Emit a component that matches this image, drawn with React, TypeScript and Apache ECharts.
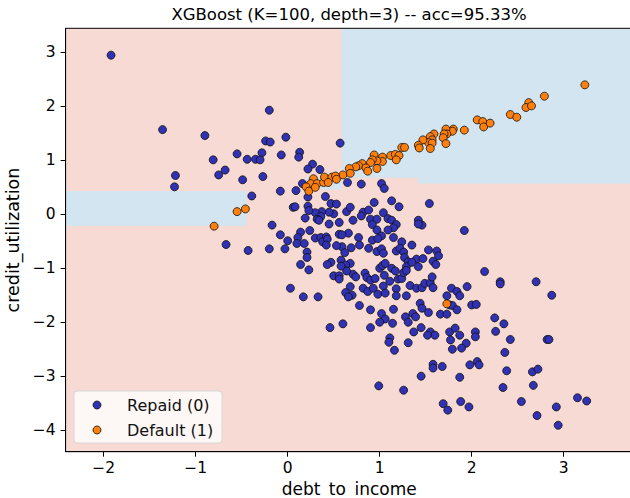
import React, { useEffect, useRef } from 'react';
import * as echarts from 'echarts';

const TITLE = 'XGBoost (K=100, depth=3) -- acc=95.33%';
const X_NAME = 'debt_to_income';
const Y_NAME = 'credit_utilization';
const X_TICKS = [-2, -1, 0, 1, 2, 3];
const Y_TICKS = [-4, -3, -2, -1, 0, 1, 2, 3];
const X_RANGE = [-2.414, 3.75];
const Y_RANGE = [-4.40, 3.448];
const CLASS_NAMES = ['Repaid (0)', 'Default (1)'];

// predicted regions: [x0, y0, x1, y1, class]
const REGIONS = [
  [-2.414, -4.40, 3.75, 3.448, 0],
  [0.587, 0.678, 1.413, 3.448, 1],
  [1.413, 0.573, 3.75, 3.448, 1],
  [-2.414, -0.217, -0.446, 0.432, 1],
  [0.20, 0.46, 0.587, 0.70, 1],
];

const REPAID = [
  [-1.92, 2.95], [-0.20, 1.93], [-1.36, 1.57], [-0.90, 1.46], [-0.24, 1.36], [-0.19, 1.34], [-0.02, 1.43], [0.57, 1.32],
  [-0.55, 1.12], [-0.28, 1.14], [0.13, 1.15], [0.12, 1.06], [-0.07, 1.10], [-0.81, 1.01], [-0.44, 1.02], [-0.35, 1.02],
  [-0.30, 1.01], [-1.22, 0.72], [-1.23, 0.51], [-0.75, 0.73], [-0.68, 0.82], [-0.49, 0.64], [-0.27, 0.70], [0.27, 0.93],
  [0.22, 0.84], [0.35, 0.83], [-0.08, 0.43], [0.09, 0.44], [0.16, 0.57], [-0.39, 0.34], [-0.17, -0.20], [0.06, 0.13],
  [0.08, 0.14], [0.22, 0.15], [0.22, 0.32], [0.41, 0.33], [0.47, 0.20], [0.53, 0.19], [0.50, 0.01], [0.45, 0.04],
  [0.37, 0.05], [0.30, 0.03], [0.23, 0.07], [0.19, -0.07], [0.45, -0.18], [0.56, -0.15], [0.64, 0.05], [0.24, -0.30],
  [0.14, -0.33], [0.11, -0.43], [-0.08, -0.38], [0.00, -0.49], [0.30, -0.44], [0.36, -0.43], [0.42, -0.42], [0.56, -0.37],
  [0.66, -0.35], [-0.67, -0.56], [0.10, -0.54], [0.18, -0.54], [0.65, 0.59], [0.68, 0.13], [0.36, -0.04], [0.32, -0.09],
  [0.34, -0.11], [0.71, -0.11], [0.80, 0.56], [1.02, 0.57], [1.05, 0.48], [0.94, 0.22], [1.13, 0.25], [1.21, 0.14],
  [1.54, 0.20], [0.82, 0.04], [0.80, -0.03], [0.88, 0.08], [0.90, -0.09], [0.97, -0.09], [0.92, -0.19], [1.04, 0.03],
  [1.09, -0.08], [1.13, -0.11], [1.18, -0.19], [1.15, -0.25], [1.09, -0.29], [0.97, -0.29], [1.42, -0.11], [1.46, -0.20],
  [1.92, -0.30], [1.02, -0.40], [0.92, -0.48], [0.98, -0.45], [0.77, -0.43], [1.42, -0.18], [1.24, -0.51], [1.35, -0.57],
  [1.15, -0.43], [1.53, -0.66], [1.62, -0.68], [1.64, -0.77], [0.69, -0.62], [0.78, -0.57], [0.88, -0.63], [0.97, -0.69],
  [1.02, -0.64], [1.04, -0.72], [1.18, -0.68], [1.22, -0.63], [1.26, -0.70], [1.27, -0.80], [1.31, -0.88], [1.40, -0.83],
  [1.47, -0.82], [1.58, -0.87], [1.61, -0.93], [1.29, -0.97], [1.35, -0.89], [1.42, -0.97], [0.68, -0.91], [0.71, -1.11],
  [0.74, -1.16], [0.84, -1.09], [0.86, -1.17], [0.90, -1.22], [0.95, -1.19], [1.00, -1.00], [1.03, -0.95], [1.06, -0.91],
  [1.13, -1.00], [1.17, -1.05], [1.05, -1.13], [1.11, -1.24], [1.20, -1.20], [1.24, -1.19], [1.26, -1.08], [1.29, -1.04],
  [0.68, -1.34], [0.70, -1.50], [0.82, -1.37], [0.87, -1.43], [0.93, -1.37], [1.04, -1.33], [0.98, -1.48], [1.06, -1.46],
  [1.18, -1.38], [1.18, -1.51], [1.29, -1.51], [1.33, -1.32], [1.40, -1.37], [1.46, -1.36], [1.49, -1.28], [1.55, -1.27],
  [1.58, -1.36], [1.57, -1.16], [0.78, -1.69], [0.90, -1.77], [1.02, -1.84], [1.06, -1.94], [1.00, -2.00], [1.15, -1.76],
  [1.14, -2.02], [1.28, -1.90], [1.31, -2.00], [1.36, -1.84], [1.39, -1.90], [1.44, -1.65], [1.46, -1.74], [1.53, -1.82],
  [1.45, -2.10], [1.37, -2.18], [1.55, -2.18], [1.60, -2.24], [1.52, -2.24], [1.11, -2.29], [0.90, -2.10], [1.66, -1.85],
  [1.73, -1.85], [1.73, -1.51], [1.78, -1.37], [1.84, -1.43], [1.87, -1.51], [1.76, -1.68], [1.79, -1.69], [1.84, -1.77],
  [1.95, -1.34], [2.00, -1.68], [2.05, -1.67], [1.76, -2.18], [1.82, -2.11], [1.87, -2.24], [2.04, -2.18], [2.04, -2.27],
  [2.14, -1.06], [2.31, -1.25], [2.31, -1.29], [2.70, -1.25], [2.87, -1.50], [2.25, -1.92], [2.35, -2.03], [2.26, -2.17],
  [2.42, -2.32], [2.36, -2.56], [2.82, -2.32], [2.84, -2.32], [2.38, -2.90], [2.34, -3.21], [2.66, -2.92], [2.72, -2.87],
  [2.67, -3.17], [2.54, -3.47], [2.71, -3.73], [2.92, -3.57], [2.94, -3.91], [3.15, -3.40], [3.25, -3.46], [1.98, -2.79],
  [2.06, -2.73], [2.08, -2.79], [1.87, -3.02], [1.58, -2.78], [1.58, -2.85], [1.68, -2.82], [1.45, -3.00], [0.99, -3.18],
  [1.26, -3.26], [1.69, -3.51], [1.74, -3.63], [1.88, -3.47], [1.97, -3.57], [1.77, -2.33], [1.94, -2.39], [1.89, -2.48],
  [1.79, -2.50], [1.31, -2.38], [1.10, -2.37], [1.16, -2.52], [0.59, -0.38], [0.59, -0.60], [0.62, -0.71], [0.58, -0.85],
  [0.63, -0.94], [0.64, -1.05], [0.60, -2.03], [-0.43, -0.67], [-0.20, -0.64], [-0.03, -0.64], [0.21, -0.70], [0.21, -0.80],
  [0.14, -0.93], [0.23, -1.03], [0.38, -0.51], [0.43, -0.46], [0.42, -0.57], [0.53, -0.58], [0.47, -0.89], [0.43, -0.93],
  [0.50, -1.14], [0.56, -1.14], [0.56, -1.20], [0.63, -1.45], [0.66, -1.53], [0.03, -1.37], [0.17, -1.53], [0.33, -1.53],
  [0.46, -2.10], [0.58, -0.96],
];

const DEFAULTED = [
  [3.23, 2.40], [2.79, 2.19], [2.62, 2.07], [2.59, 1.98], [2.65, 2.01], [2.42, 1.85], [2.49, 1.80], [2.06, 1.75],
  [2.12, 1.72], [2.13, 1.62], [2.20, 1.69], [1.92, 1.56], [1.80, 1.58], [1.79, 1.54], [1.72, 1.58], [1.73, 1.49],
  [1.70, 1.49], [1.69, 1.42], [1.72, 1.31], [1.59, 1.49], [1.55, 1.44], [1.57, 1.38], [1.53, 1.33], [1.57, 1.32],
  [1.47, 1.38], [1.42, 1.28], [1.43, 1.23], [1.55, 1.22], [1.24, 1.24], [1.27, 1.24], [1.12, 1.09], [1.17, 1.11],
  [1.21, 1.09], [1.18, 1.01], [0.94, 1.10], [1.03, 1.06], [1.03, 0.98], [0.97, 0.99], [0.92, 1.01], [0.90, 0.96],
  [0.97, 0.85], [0.81, 0.94], [0.77, 0.90], [0.74, 0.88], [0.85, 0.86], [0.87, 0.80], [0.67, 0.85], [0.68, 0.76],
  [0.60, 0.73], [-0.55, 0.05], [-0.46, 0.10], [0.28, 0.66], [0.25, 0.57], [0.32, 0.57], [0.39, 0.59], [0.40, 0.69],
  [0.20, 0.51], [0.23, 0.43], [0.30, 0.50], [0.48, 0.69], [0.52, 0.71], [-0.80, -0.22], [0.44, 0.59], [0.53, 0.65],
  [1.73, -1.66],
];

const PINK = '#f6dad3';
const LIGHT_BLUE = '#d2e5f0';
const BLUE = '#3131b3';
const ORANGE = '#ff7f0e';
const FONT = 'DejaVu Sans';

const fmt = (v: number) => (v < 0 ? '\u2212' + Math.abs(v) : String(v));

export default function App() {
  const ref = useRef<HTMLDivElement>(null);
  useEffect(() => {
    if (!ref.current) return;
    const chart = echarts.init(ref.current, undefined, { renderer: 'svg' });
    chart.setOption({
      animation: false,
      grid: {
        left: 65.6, right: -2.7, top: 28.3, bottom: 46.3,
        containLabel: false, outerBoundsMode: 'none',
        show: true, z: 5, borderColor: '#000', borderWidth: 1, backgroundColor: 'transparent',
      },
      xAxis: {
        type: 'value', min: X_RANGE[0], max: X_RANGE[1],
        name: X_NAME, nameLocation: 'middle', nameGap: 27.5,
        nameTextStyle: { fontFamily: FONT, fontSize: 17, color: '#000' },
        axisLine: { show: true, onZero: false, lineStyle: { color: '#000', width: 1 } },
        axisTick: { show: true, length: 5, lineStyle: { color: '#000' }, customValues: X_TICKS },
        axisLabel: { customValues: X_TICKS, formatter: fmt, color: '#000', fontFamily: FONT, fontSize: 15.5, margin: 8 },
        splitLine: { show: false },
        z: 5,
      },
      yAxis: {
        type: 'value', min: Y_RANGE[0], max: Y_RANGE[1],
        name: Y_NAME, nameLocation: 'middle', nameGap: 37, nameRotate: 90,
        nameTextStyle: { fontFamily: FONT, fontSize: 17.5, color: '#000' },
        axisLine: { show: true, onZero: false, lineStyle: { color: '#000', width: 1 } },
        axisTick: { show: true, length: 5, lineStyle: { color: '#000' }, customValues: Y_TICKS },
        axisLabel: { customValues: Y_TICKS, formatter: fmt, color: '#000', fontFamily: FONT, fontSize: 15.5, margin: 10 },
        splitLine: { show: false },
        z: 5,
      },
      series: [
        {
          type: 'custom',
          silent: true,
          clip: true,
          z: 1,
          encode: { x: [0, 2], y: [1, 3] },
          data: REGIONS,
          renderItem: (params: any, api: any) => {
            const p0 = api.coord([api.value(0), api.value(3)]);
            const p1 = api.coord([api.value(2), api.value(1)]);
            return {
              type: 'rect',
              shape: { x: p0[0], y: p0[1], width: p1[0] - p0[0], height: p1[1] - p0[1] },
              style: { fill: api.value(4) ? LIGHT_BLUE : PINK, stroke: null },
            };
          },
        },
        {
          type: 'scatter', name: CLASS_NAMES[0], data: REPAID, symbolSize: 8, z: 3,
          itemStyle: { color: BLUE, borderColor: '#111', borderWidth: 0.8, opacity: 1 },
        },
        {
          type: 'scatter', name: CLASS_NAMES[1], data: DEFAULTED, symbolSize: 8, z: 4,
          itemStyle: { color: ORANGE, borderColor: '#111', borderWidth: 0.8, opacity: 1 },
        },
      ],
      graphic: [
        {
          type: 'text', x: 349, y: 14, z: 100,
          style: { text: TITLE, fontFamily: FONT, fontSize: 16.5, fill: '#000', align: 'center', verticalAlign: 'middle' },
        },
        { type: 'rect', z: 100, shape: { x: 74, y: 391, width: 148, height: 52, r: 3 }, style: { fill: 'rgba(255,255,255,0.8)', stroke: '#d6d6d6', lineWidth: 1 } },
        { type: 'circle', z: 101, shape: { cx: 97, cy: 405, r: 4 }, style: { fill: BLUE, stroke: '#111', lineWidth: 0.8 } },
        { type: 'circle', z: 101, shape: { cx: 97, cy: 430, r: 4 }, style: { fill: ORANGE, stroke: '#111', lineWidth: 0.8 } },
        { type: 'text', z: 101, x: 127, y: 405, style: { text: CLASS_NAMES[0], fontFamily: FONT, fontSize: 16, fill: '#111', verticalAlign: 'middle' } },
        { type: 'text', z: 101, x: 127, y: 430, style: { text: CLASS_NAMES[1], fontFamily: FONT, fontSize: 16, fill: '#111', verticalAlign: 'middle' } },
      ],
    });
    return () => chart.dispose();
  }, []);
  return <div ref={ref} style={{ position: 'absolute', left: 0, top: 0, width: 630, height: 498 }} />;
}
